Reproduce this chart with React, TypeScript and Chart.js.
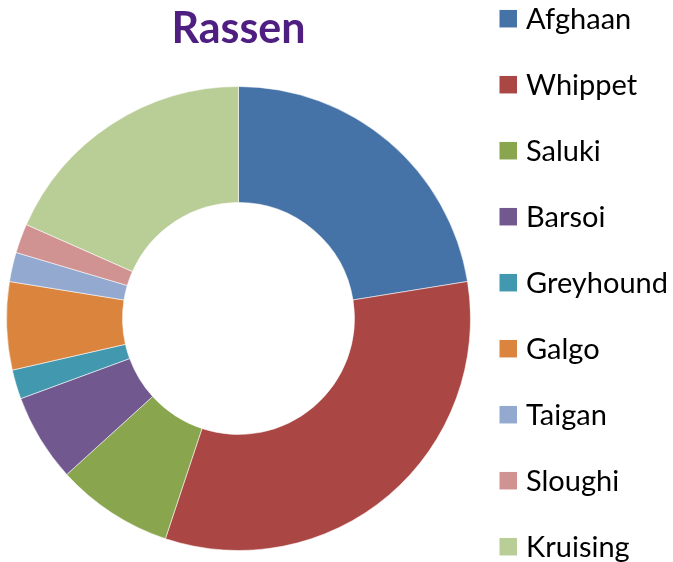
import React, { useEffect, useRef } from "react";
import { Chart, registerables } from "chart.js";

Chart.register(...registerables);

const chartTitle = "Rassen";
const breeds = ["Afghaan", "Whippet", "Saluki", "Barsoi", "Greyhound", "Galgo", "Taigan", "Sloughi", "Kruising"];
const counts = [11, 16, 4, 3, 1, 3, 1, 1, 9];
const sliceColors = ["#4572A7", "#AA4643", "#89A54E", "#71588F", "#4198AF", "#DB843D", "#93A9CF", "#D19392", "#B9CD96"];

const sideLegend = {
  id: "sideLegend",
  afterDraw(chart: any) {
    const ctx = chart.ctx;
    const names: string[] = chart.data.labels;
    const fills: string[] = chart.data.datasets[0].backgroundColor;
    const firstY = 18.7;
    const step = 66;
    const boxX = 499.5;
    const box = 17.5;
    ctx.save();
    ctx.font = "29px Lato";
    ctx.textBaseline = "middle";
    ctx.textAlign = "left";
    names.forEach((name, i) => {
      const cy = firstY + i * step;
      ctx.fillStyle = fills[i];
      ctx.fillRect(boxX, cy - box / 2, box, box);
      ctx.fillStyle = "#000000";
      ctx.fillText(name, 526, cy + 1);
    });
    ctx.restore();
  },
};

export default function App() {
  const canvasRef = useRef<HTMLCanvasElement | null>(null);

  useEffect(() => {
    if (!canvasRef.current) return;
    const chart = new Chart(canvasRef.current, {
      type: "doughnut",
      data: {
        labels: breeds,
        datasets: [
          {
            data: counts,
            backgroundColor: sliceColors,
            borderColor: "rgba(255,255,255,0.55)",
            borderWidth: 1,
            hoverOffset: 0,
          },
        ],
      },
      options: {
        responsive: false,
        animation: false,
        cutout: "50%",
        layout: { padding: { left: 6, right: 202, top: 0, bottom: 11 } },
        plugins: {
          legend: { display: false },
          tooltip: { enabled: false },
          title: {
            display: true,
            text: chartTitle,
            color: "#4E1F80",
            font: { family: "Lato", size: 43, weight: "bold", lineHeight: 1.2 },
            padding: { top: 3.5, bottom: 30.9 },
          },
        },
      },
      plugins: [sideLegend],
    });
    return () => chart.destroy();
  }, []);

  return (
    <div style={{ position: "fixed", left: 0, top: 0, width: 673, height: 562, background: "#fff" }}>
      <canvas ref={canvasRef} width={673} height={562} style={{ display: "block" }} />
    </div>
  );
}
